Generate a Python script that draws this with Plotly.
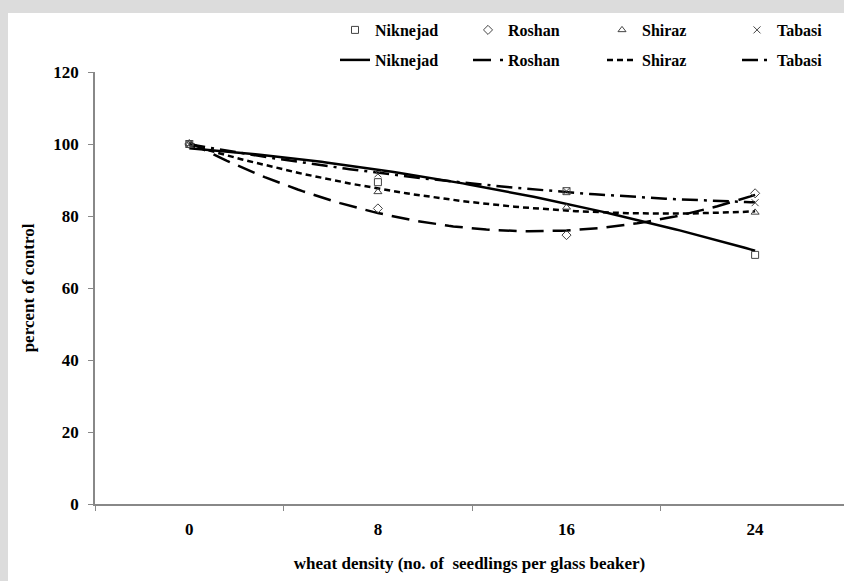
import numpy as np
import plotly.graph_objects as go

density = [0, 8, 16, 24]
tick_labels = ["0", "8", "16", "24"]
niknejad = [100, 89.4, 86.9, 69.2]
roshan = [100, 82.1, 74.7, 86.3]
shiraz = [100, 86.7, 82.4, 81.0]
tabasi = [100, 91.7, 86.9, 83.7]

series = [
    ("Niknejad", niknejad, "square-open", "solid"),
    ("Roshan", roshan, "diamond-open", "18px,9px"),
    ("Shiraz", shiraz, "triangle-up-open", "6px,4px"),
    ("Tabasi", tabasi, "x-thin-open", "16px,6px,3px,6px"),
]

FONT = "'Liberation Serif', 'Times New Roman', Times, serif"
L, T, W, H = 95, 72, 844, 581
PW, PH = W - L, 504 - T
legend_left_px = [335, 468, 602, 737]
row_y_px = [30, 60]

fig = go.Figure()
layout_legends = {}

# order-2 polynomial trendlines fitted to the data, as in the original chart
xs = np.linspace(0, 24, 121)
for i, (name, vals, sym, dash) in enumerate(series):
    coef = np.polyfit(density, vals, 2)
    lid = f"legend{5 + i}"
    fig.add_trace(go.Scatter(
        x=xs, y=np.polyval(coef, xs), mode="lines", name=name,
        line=dict(color="black", width=2.5, dash=dash),
        legend=lid, hoverinfo="skip"))
    layout_legends[lid] = (legend_left_px[i], row_y_px[1])

for i, (name, vals, sym, dash) in enumerate(series):
    lid = "legend" if i == 0 else f"legend{1 + i}"
    fig.add_trace(go.Scatter(
        x=density, y=vals, mode="markers", name=name,
        marker=dict(symbol=sym, size=7, color="#444",
                    line=dict(color="#444", width=1)),
        legend=lid))
    layout_legends[lid] = (legend_left_px[i], row_y_px[0])

legend_layout = {}
for lid, (px, py) in layout_legends.items():
    legend_layout[lid] = dict(
        x=(px - L) / PW, y=(504 - py) / PH, xanchor="left", yanchor="middle",
        orientation="h", bgcolor="rgba(0,0,0,0)",
        font=dict(family=FONT, size=16, weight="bold"))

fig.update_layout(
    width=W, height=H,
    margin=dict(l=L, r=0, t=T, b=H - 504, autoexpand=False),
    paper_bgcolor="#dcdcdc",
    plot_bgcolor="white",
    font=dict(family=FONT, size=17, color="black"),
    shapes=[dict(type="rect", xref="paper", yref="paper",
                 x0=(8 - L) / PW, x1=1.01, y0=-0.2, y1=(504 - 13) / PH,
                 fillcolor="white", line=dict(width=0), layer="below")],
    showlegend=True,
    **legend_layout,
)

fig.update_xaxes(
    range=[-4, 27.77], tickvals=density, ticktext=tick_labels,
    ticks="", showgrid=False, zeroline=False,
    showline=True, linecolor="#888", linewidth=1.5,
    minor=dict(tick0=-4, dtick=8, ticks="outside", ticklen=5, tickcolor="#888", showgrid=False),
    tickfont=dict(family=FONT, size=17, weight="bold"),
    ticklabelstandoff=9,
    title=dict(text="wheat density (no. of  seedlings per glass beaker)",
               font=dict(family=FONT, size=17, weight="bold"), standoff=19),
)
fig.update_yaxes(
    range=[0, 120], dtick=20, ticks="outside", ticklen=5, tickcolor="#888",
    showgrid=False, zeroline=False,
    showline=True, linecolor="#888", linewidth=1.5,
    tickfont=dict(family=FONT, size=17, weight="bold"),
    ticklabelstandoff=6,
    title=dict(text="percent of control",
               font=dict(family=FONT, size=17, weight="bold"), standoff=14),
)

fig.write_html("out.html", config={"displayModeBar": False},
               post_script="document.body.style.margin='0';")
